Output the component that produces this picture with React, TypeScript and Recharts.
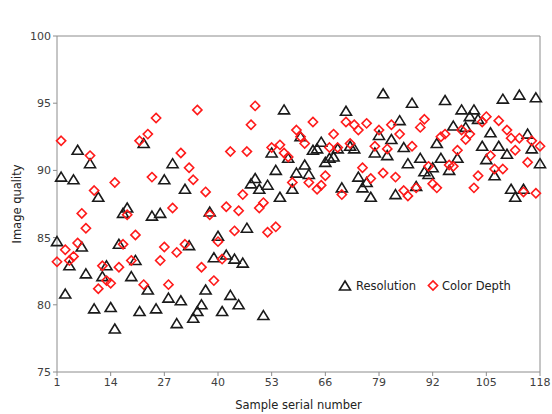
import React from "react";
import {
  ScatterChart,
  Scatter,
  XAxis,
  YAxis,
  ReferenceLine,
  Legend,
} from "recharts";

// sample serial numbers 1..118
const samples: number[] = Array.from({ length: 118 }, (_, i) => i + 1);

const resolution: number[] = [
  84.7, 89.5, 80.8, 82.9, 89.3, 91.5, 84.3, 82.3, 90.5, 79.7,
  88.0, 82.1, 82.9, 79.8, 78.2, 84.5, 86.8, 87.2, 82.1, 83.3,
  79.5, 92.0, 81.1, 86.6, 79.7, 86.8, 89.3, 80.5, 90.5, 78.6,
  80.3, 88.6, 84.4, 79.0, 79.5, 80.0, 81.1, 86.9, 83.5, 85.1,
  79.5, 83.7, 80.7, 83.4, 80.0, 83.1, 85.7, 89.0, 89.4, 88.6,
  79.2, 88.9, 91.3, 90.0, 88.0, 94.5, 90.9, 88.6, 89.8, 92.5,
  90.4, 89.7, 91.5, 91.6, 92.1, 90.6, 90.9, 91.0, 91.6, 88.7,
  94.4, 91.8, 91.6, 89.5, 88.7, 89.1, 88.0, 91.3, 92.6, 95.7,
  91.1, 92.3, 88.2, 93.7, 91.7, 90.5, 95.0, 88.8, 90.9, 89.9,
  89.7, 90.2, 92.0, 90.9, 95.2, 90.0, 93.3, 90.9, 94.5, 93.2,
  94.0, 94.5, 93.8, 91.8, 90.8, 92.8, 89.6, 91.8, 95.3, 91.2,
  88.6, 88.0, 95.6, 88.6, 92.7, 91.6, 95.4, 90.5,
];

const colorDepth: number[] = [
  83.2, 92.2, 84.1, 83.3, 83.6, 84.6, 86.8, 85.7, 91.1, 88.5,
  81.2, 82.9, 81.8, 81.6, 89.1, 82.8, 84.5, 86.7, 83.3, 85.2,
  92.2, 81.5, 92.7, 89.5, 93.9, 83.3, 84.3, 81.5, 87.2, 83.9,
  91.3, 84.5, 90.2, 89.3, 94.5, 82.8, 88.4, 86.7, 81.8, 84.7,
  83.4, 87.3, 91.4, 85.5, 87.0, 88.2, 91.4, 93.4, 94.8, 87.2,
  87.6, 85.4, 91.7, 85.8, 91.9, 91.3, 91.0, 89.1, 93.0, 92.5,
  92.0, 89.1, 93.6, 88.6, 88.9, 89.6, 91.7, 92.7, 91.7, 88.2,
  93.6, 92.0, 93.4, 93.0, 90.2, 93.5, 89.4, 91.8, 93.0, 89.8,
  91.6, 93.4, 89.5, 92.7, 88.5, 88.1, 91.8, 88.7, 93.2, 93.8,
  90.3, 89.0, 88.7, 92.5, 92.7, 90.4, 90.3, 91.5, 93.0, 92.3,
  92.7, 88.7, 89.6, 93.6, 94.0, 91.1, 90.1, 93.7, 90.1, 93.0,
  92.4, 91.5, 92.4, 88.4, 90.6, 92.2, 88.3, 91.8,
];

const xTicks = [1, 14, 27, 40, 53, 66, 79, 92, 105, 118];
const yTicks = [75, 80, 85, 90, 95, 100];

const FONT = "'DejaVu Sans', Verdana, sans-serif";
const AXIS = "#8c8c8c";
const TEXT = "#404040";

const resData = samples.map((s, i) => ({ x: s, y: resolution[i] }));
const cdData = samples.map((s, i) => ({ x: s, y: colorDepth[i] }));

const Triangle = (props: any) => {
  const { cx, cy } = props;
  return (
    <path
      d={`M${cx},${cy - 5} L${cx + 5.5},${cy + 4} L${cx - 5.5},${cy + 4} Z`}
      fill="none"
      stroke="#1a1a1a"
      strokeWidth={1.6}
    />
  );
};

const Diamond = (props: any) => {
  const { cx, cy } = props;
  return (
    <path
      d={`M${cx},${cy - 4.6} L${cx + 4.6},${cy} L${cx},${cy + 4.6} L${cx - 4.6},${cy} Z`}
      fill="none"
      stroke="#ff1a1a"
      strokeWidth={1.6}
    />
  );
};

const LegendBox = () => (
  <svg width={200} height={20} style={{ fontFamily: FONT }}>
    <Triangle cx={8} cy={11} />
    <text x={19} y={15} fontSize={11.5} fill="#222">
      Resolution
    </text>
    <Diamond cx={96} cy={10.5} />
    <text x={105} y={15} fontSize={11.5} fill="#222">
      Color Depth
    </text>
  </svg>
);

export default function App() {
  return (
    <div style={{ position: "fixed", left: 0, top: 0, background: "#fff" }}>
      <ScatterChart
        width={552}
        height={414}
        margin={{ top: 12, right: 12, bottom: 0, left: 0 }}
      >
        <XAxis
          type="number"
          dataKey="x"
          domain={[1, 118]}
          ticks={xTicks}
          interval={0}
          height={42}
          stroke={AXIS}
          tickSize={4}
          tick={{ fontSize: 11, fill: TEXT, fontFamily: FONT }}
          label={{
            value: "Sample serial number",
            position: "insideBottom",
            offset: 5,
            fontSize: 11.5,
            fill: "#222",
            fontFamily: FONT,
          }}
        />
        <YAxis
          type="number"
          dataKey="y"
          domain={[75, 100]}
          ticks={yTicks}
          interval={0}
          width={57}
          stroke={AXIS}
          tickSize={4}
          tick={{ fontSize: 11, fill: TEXT, fontFamily: FONT }}
          label={{
            value: "Image quality",
            angle: -90,
            position: "insideLeft",
            offset: 17,
            fontSize: 11.5,
            fill: "#222",
            fontFamily: FONT,
            style: { textAnchor: "middle" },
          }}
        />
        <ReferenceLine x={118} stroke={AXIS} />
        <ReferenceLine y={100} stroke={AXIS} />
        <Legend
          content={LegendBox}
          layout="horizontal"
          verticalAlign="top"
          align="left"
          wrapperStyle={{ left: 337, top: 275, width: 200 }}
        />
        <Scatter
          name="Resolution"
          data={resData}
          shape={Triangle}
          isAnimationActive={false}
        />
        <Scatter
          name="Color Depth"
          data={cdData}
          shape={Diamond}
          isAnimationActive={false}
        />
      </ScatterChart>
    </div>
  );
}
